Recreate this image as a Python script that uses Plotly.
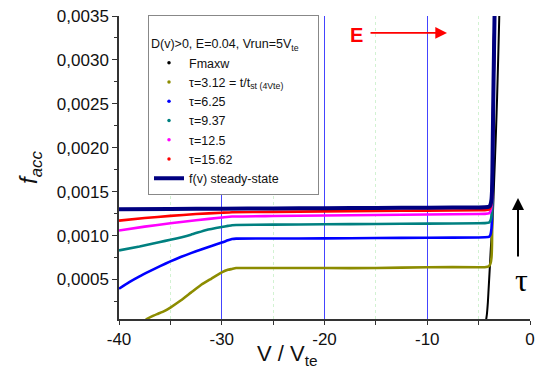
import plotly.graph_objects as go

# ---------------- data ----------------
x_maxw = [-4.32, -4.2, -4.1, -4.0, -3.9, -3.82, -3.7, -3.6, -3.5, -3.4, -3.3, -3.2, -3.1, -3.0, -2.9]
y_maxw = [0.00000, 0.00010, 0.00024, 0.00045, 0.00066, 0.00084, 0.00106, 0.00128, 0.00160, 0.00190, 0.00222, 0.00258, 0.00300, 0.00345, 0.00400]

x_t312 = [-37.8, -37.3, -36.8, -36.2, -35.6, -35.0, -34.0, -33.0, -32.0, -31.0, -30.0, -29.4, -29.0, -28.6, -25.0, -20.0, -15.0, -10.0, -5.0, -4.4, -4.0, -3.85, -3.75, -3.7, -3.66, -3.62, -3.55, -3.45, -3.35]
y_t312 = [0.00000, 0.00005, 0.00008, 0.00011, 0.00014, 0.00018, 0.00026, 0.00035, 0.00044, 0.00051, 0.00058, 0.00061, 0.00062, 0.00063, 0.00063, 0.00063, 0.00063, 0.00064, 0.00064, 0.00064, 0.00065, 0.00068, 0.00075, 0.00090, 0.00130, 0.00190, 0.00270, 0.00350, 0.00420]

x_t625 = [-40.0, -39.0, -38.0, -37.0, -36.0, -35.0, -34.0, -33.0, -32.0, -31.0, -30.0, -29.4, -29.0, -28.6, -25.0, -20.0, -15.0, -10.0, -5.0, -4.4, -4.0, -3.85, -3.75, -3.7, -3.66, -3.62, -3.55, -3.45, -3.35]
y_t625 = [0.000395, 0.000470, 0.000536, 0.000595, 0.000652, 0.000706, 0.000755, 0.000800, 0.000842, 0.000882, 0.000920, 0.000946, 0.000960, 0.000965, 0.000966, 0.000968, 0.000972, 0.000975, 0.000978, 0.000980, 0.000985, 0.00101, 0.00108, 0.00120, 0.00150, 0.00200, 0.00270, 0.00350, 0.00420]

x_t937 = [-40.0, -38.0, -36.0, -35.0, -33.0, -31.5, -30.0, -29.4, -29.0, -28.6, -25.0, -20.0, -15.0, -10.0, -5.0, -4.4, -4.0, -3.85, -3.75, -3.7, -3.66, -3.62, -3.55, -3.45, -3.35]
y_t937 = [0.000831, 0.000876, 0.000927, 0.000952, 0.001010, 0.001064, 0.001098, 0.001110, 0.001118, 0.001121, 0.001124, 0.001128, 0.001132, 0.001136, 0.001140, 0.001142, 0.001148, 0.00117, 0.00122, 0.00130, 0.00155, 0.00200, 0.00270, 0.00350, 0.00420]

x_t125 = [-40.0, -37.5, -35.0, -32.5, -30.0, -29.0, -25.0, -20.0, -15.0, -10.0, -5.0, -4.4, -4.0, -3.85, -3.75, -3.7, -3.66, -3.62, -3.55, -3.45, -3.35]
y_t125 = [0.001058, 0.001102, 0.001140, 0.001175, 0.001205, 0.001217, 0.001222, 0.001228, 0.001234, 0.001240, 0.001245, 0.001247, 0.001253, 0.00128, 0.00134, 0.00142, 0.00165, 0.00205, 0.00270, 0.00350, 0.00420]

x_t1562 = [-40.0, -37.5, -35.0, -32.5, -30.0, -29.0, -25.0, -20.0, -15.0, -10.0, -5.0, -4.4, -4.0, -3.85, -3.75, -3.7, -3.66, -3.62, -3.55, -3.45, -3.35]
y_t1562 = [0.001170, 0.001200, 0.001224, 0.001245, 0.001260, 0.001266, 0.001270, 0.001275, 0.001280, 0.001284, 0.001288, 0.001290, 0.001296, 0.00132, 0.00138, 0.00146, 0.00170, 0.00210, 0.00272, 0.00350, 0.00420]

x_ss = [-40.0, -35.0, -30.0, -25.0, -20.0, -15.0, -10.0, -5.0, -4.4, -4.0, -3.85, -3.75, -3.7, -3.66, -3.62, -3.55, -3.45, -3.35]
y_ss = [0.001300, 0.001303, 0.001306, 0.001309, 0.001312, 0.001315, 0.001318, 0.001320, 0.001322, 0.001328, 0.00135, 0.00141, 0.00150, 0.00172, 0.00212, 0.00274, 0.00350, 0.00420]

series = [
    ("Fmaxw", x_maxw, y_maxw, "#000000", 2.0),
    ("\u03c4=3.12 = t/t<sub>st (4Vte)</sub>", x_t312, y_t312, "#8C8C00", 2.6),
    ("\u03c4=6.25", x_t625, y_t625, "#0000FF", 2.6),
    ("\u03c4=9.37", x_t937, y_t937, "#008080", 2.6),
    ("\u03c4=12.5", x_t125, y_t125, "#FF00FF", 2.6),
    ("\u03c4=15.62", x_t1562, y_t1562, "#FF0000", 2.6),
]

x_ticks = [-40, -30, -20, -10, 0]
y_ticks = [0.0005, 0.0010, 0.0015, 0.0020, 0.0025, 0.0030, 0.0035]

FONT = "Liberation Sans, Arial, sans-serif"

fig = go.Figure()

for name, xs, ys, col, w in series:
    fig.add_trace(go.Scatter(x=xs, y=ys, mode="lines", showlegend=False,
                             line=dict(color=col, width=w, shape="spline", smoothing=0.4),
                             hoverinfo="skip"))
fig.add_trace(go.Scatter(x=x_ss, y=y_ss, mode="lines", showlegend=False,
                         line=dict(color="#000080", width=4, shape="spline", smoothing=0.4),
                         hoverinfo="skip"))

for name, xs, ys, col, w in series:
    fig.add_trace(go.Scatter(x=[None], y=[None], mode="markers", name=name,
                             marker=dict(color=col, size=3.5, symbol="circle",
                                         line=dict(width=0))))
fig.add_trace(go.Scatter(x=[None], y=[None], mode="lines", name="f(v) steady-state",
                         line=dict(color="#000080", width=4)))

fig.update_layout(
    width=535, height=371,
    margin=dict(l=119, r=5, t=15.5, b=51.5, autoexpand=False),
    paper_bgcolor="white", plot_bgcolor="white",
    separators=", ",
    font=dict(family=FONT, color="#111111"),
    showlegend=True,
    legend=dict(
        x=(148 - 119) / 411, y=(319.5 - 14) / 304, xanchor="left", yanchor="top",
        bgcolor="white", bordercolor="#888888", borderwidth=1,
        font=dict(size=12.5, family=FONT, color="#111111"),
        title=dict(text="<br>D(v)>0, E=0.04, Vrun=5V<sub>te</sub>&nbsp;&nbsp;&nbsp;&nbsp;&nbsp;",
                   font=dict(size=12.5, family=FONT)),
        tracegroupgap=0, itemwidth=30,
    ),
    xaxis=dict(
        range=[-40, 0], tickmode="array", tickvals=x_ticks,
        ticktext=[str(v) for v in x_ticks],
        ticks="outside", ticklen=4, tickwidth=1, tickcolor="#333333",
        showline=True, linecolor="#333333", linewidth=1.5,
        showgrid=True, gridcolor="#4444FF", gridwidth=0.8,
        zeroline=False,
        minor=dict(dtick=5, tick0=0, ticks="outside", ticklen=4, tickcolor="#333333",
                   showgrid=True, gridcolor="#D2F2D2", griddash="dot", gridwidth=1),
        tickfont=dict(size=17, family=FONT, color="#111111"),
    ),
    yaxis=dict(
        range=[0.00005, 0.0035], tickmode="array", tickvals=y_ticks,
        ticktext=[f"{v:.4f}".replace(".", ",") for v in y_ticks],
        ticks="outside", ticklen=5, tickwidth=1, tickcolor="#333333",
        showline=True, linecolor="#333333", linewidth=1.5,
        showgrid=False, zeroline=False,
        minor=dict(dtick=0.00025, tick0=0, ticks="outside", ticklen=3, tickcolor="#333333",
                   showgrid=False),
        tickfont=dict(size=17, family=FONT, color="#111111"),
        title=dict(text="<i>f</i><sub><i>acc</i></sub>",
                   font=dict(size=24, family=FONT, color="#111111"), standoff=12),
    ),
)

# x axis title (offset left as in the original)
fig.add_annotation(xref="paper", yref="paper", x=(287 - 119) / 411, y=(319.5 - 356) / 304,
                   text="V / V<sub>te</sub>", showarrow=False, xanchor="center", yanchor="middle",
                   font=dict(size=22, family=FONT, color="#111111"))

# "E" with red arrow
fig.add_annotation(xref="paper", yref="paper", x=(356 - 119) / 411, y=(319.5 - 35) / 304,
                   text="<b>E</b>", showarrow=False, xanchor="center", yanchor="middle",
                   font=dict(size=20, color="#FF0000", family=FONT))
fig.add_annotation(xref="paper", yref="paper", x=(447 - 119) / 411, y=(319.5 - 32.5) / 304,
                   ax=-78, ay=0, text="", showarrow=True, arrowhead=2, arrowsize=1.3,
                   arrowwidth=1.8, arrowcolor="#FF0000")
# tau arrow
fig.add_annotation(xref="paper", yref="paper", x=(518 - 119) / 411, y=(319.5 - 198) / 304,
                   ax=0, ay=60, text="", showarrow=True, arrowhead=2, arrowsize=1.2,
                   arrowwidth=2, arrowcolor="#000000")
fig.add_annotation(xref="paper", yref="paper", x=(521 - 119) / 411, y=(319.5 - 280) / 304,
                   text="\u03c4", showarrow=False, xanchor="center", yanchor="middle",
                   font=dict(size=32, color="#000000", family="Liberation Serif, serif"))

fig.write_html("out.html")
